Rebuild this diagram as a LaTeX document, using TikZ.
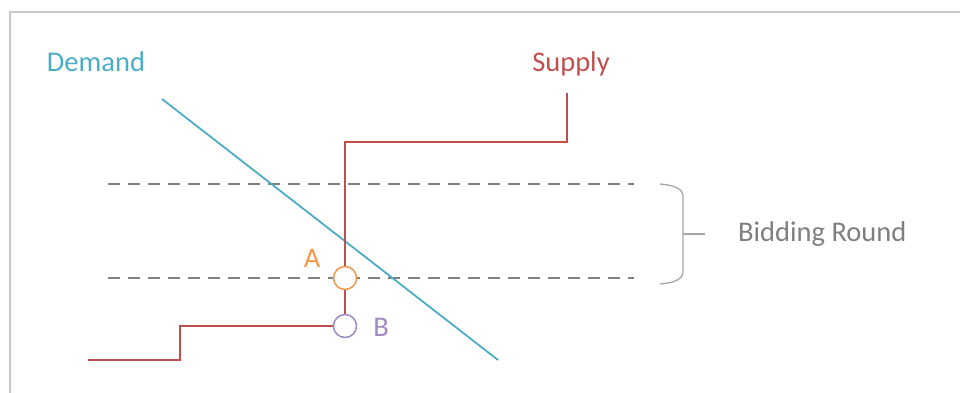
\documentclass[tikz,border=0pt]{standalone}
\usepackage{fontspec}
\setmainfont{Carlito}
\usetikzlibrary{decorations.pathreplacing}
\definecolor{demandc}{HTML}{4BACC6}
\definecolor{supplyc}{HTML}{C0504D}
\definecolor{orangec}{HTML}{F79646}
\definecolor{purplec}{HTML}{9F8AC2}
\definecolor{dashc}{HTML}{808080}
\definecolor{bracec}{HTML}{A6A6A6}
\definecolor{textg}{HTML}{7F7F7F}
\definecolor{framec}{HTML}{C8C8C8}
\tikzset{
  lbl/.style={inner sep=0pt, font=\fontsize{28.5}{31}\selectfont},
  pt/.style={circle, draw, line width=1.5pt, minimum size=23pt, inner sep=0pt, fill=white},
  sline/.style={draw=supplyc, line width=2pt},
  dline/.style={draw=demandc, line width=1.8pt},
  guide/.style={draw=dashc, line width=1.8pt, dash pattern=on 12pt off 8pt},
}
\begin{document}
\begin{tikzpicture}[x=1pt,y=-1pt]
\useasboundingbox (0,0) rectangle (960,392);
\draw[framec, line width=2pt] (10,400) -- (10,12) -- (970,12);
% dashed guides
\coordinate (g1a) at (108,184); \coordinate (g1b) at (634,184);
\coordinate (g2a) at (108,278); \coordinate (g2b) at (634,278);
\draw[guide] (g1a) -- (g1b);
\draw[guide] (g2a) -- (g2b);
% demand
\coordinate (d1) at (162,99); \coordinate (d2) at (498,360);
\draw[dline] (d1) -- (d2);
\node[lbl, text=demandc] (demand) at (96,62) {Demand};
% supply
\node[lbl, text=supplyc] (supply) at (571,64) {Supply};
\node[pt, draw=orangec] (A) at (345,278) {};
\node[pt, draw=purplec] (B) at (345,326) {};
\coordinate (s1) at (567,93); \coordinate (s2) at (567,142); \coordinate (s3) at (345,142);
\coordinate (s4) at (180,326); \coordinate (s5) at (180,360); \coordinate (s6) at (88,360);
\draw[sline] (s1) -- (s2) -- (s3) -- (A.north);
\draw[sline] (A.south) -- (B.north);
\draw[sline] (B.west) -- (s4) -- (s5) -- (s6);
\node[lbl, text=orangec] (Alab) at (312,258) {A};
\node[lbl, text=purplec] (Blab) at (381,327) {B};
% brace
\coordinate (b1) at (660,184); \coordinate (b2) at (660,284);
\coordinate (bt) at (683,234); \coordinate (be) at (705,234);
\draw[bracec, line width=1.3pt] (b1) .. controls (672,185) and (683,188) .. (683,196) -- (683,272) .. controls (683,280) and (672,283) .. (b2);
\draw[bracec, line width=1.3pt] (bt) -- (be);
\node[lbl, text=textg, anchor=west] (bid) at (738,234) {Bidding Round};
\end{tikzpicture}
\end{document}
